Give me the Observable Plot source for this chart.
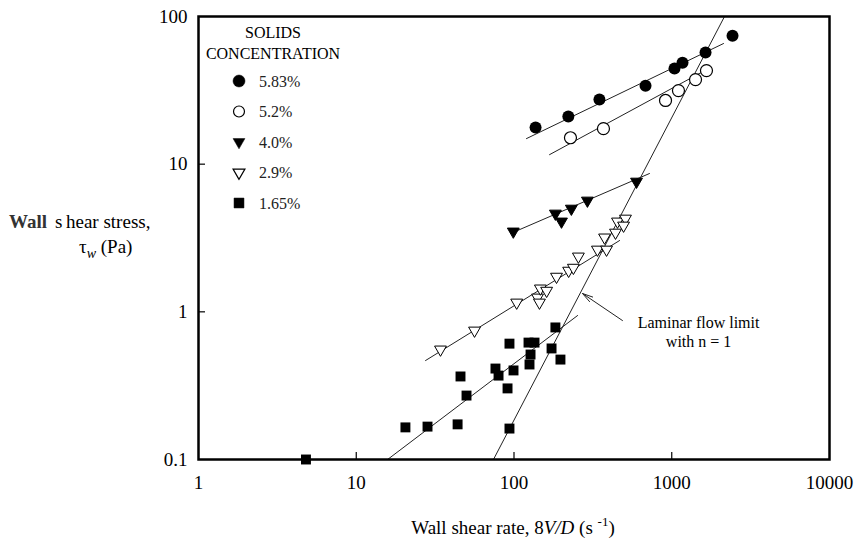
<!DOCTYPE html>
<html><head><meta charset="utf-8">
<script src="https://cdn.jsdelivr.net/npm/d3@7"></script>
<script src="https://cdn.jsdelivr.net/npm/@observablehq/plot@0.6"></script>
<style>
body{margin:0;background:#fff;}
#wrap{position:relative;width:856px;height:543px;font-family:"Liberation Serif","Times New Roman",serif;}
#wrap svg{position:absolute;left:0;top:0;}
</style></head><body><div id="wrap"></div>
<script>
// ---- data ----
const seriesNames = ["5.83%", "5.2%", "4.0%", "2.9%", "1.65%"];

const rate583 = [137, 221, 348, 682, 1041, 1170, 1637, 2428];
const tau583  = [17.7, 21.0, 27.4, 34.0, 44.4, 48.7, 57.0, 74.2];

const rate52 = [228, 369, 913, 1103, 1415, 1660];
const tau52  = [15.1, 17.4, 27.0, 31.5, 37.4, 43.0];

const rate40 = [99, 183, 200, 231, 292, 598];
const tau40  = [3.50, 4.63, 4.09, 5.0, 5.67, 7.62];

const rate29 = [34.2, 56.2, 104, 141, 145, 147, 161, 186, 222, 238, 256, 338, 375, 386, 440, 453, 509, 495];
const tau29  = [0.556, 0.747, 1.156, 1.25, 1.156, 1.44, 1.39, 1.73, 1.90, 1.99, 2.37, 2.64, 3.19, 2.64, 3.44, 4.09, 4.28, 3.84];

const rate165 = [4.8, 20.5, 28.3, 43.9, 50.0, 45.8, 76.3, 79.8, 99.3, 91.0, 93.6, 123.6, 134.9, 127.3, 125.4, 93.6, 173, 183, 197];
const tau165  = [0.100, 0.165, 0.167, 0.173, 0.271, 0.365, 0.413, 0.370, 0.401, 0.303, 0.609, 0.619, 0.619, 0.514, 0.440, 0.162, 0.565, 0.784, 0.475];

// fitted lines (end points)
const fit583Rate = [120, 2129], fit583Tau = [14.9, 65.6];
const fit52Rate  = [168, 1710], fit52Tau  = [11.6, 44.4];
const fit40Rate  = [95, 722],   fit40Tau  = [3.39, 8.64];
const fit29Rate  = [27.5, 467], fit29Tau  = [0.468, 3.04];
const fit165Rate = [15.8, 253], fit165Tau = [0.100, 0.944];
const laminarRate = [74.1, 2160], laminarTau = [0.1, 100];

// annotation
const arrowFrom = [487, 0.873], arrowTo = [272, 1.33];
const noteAt = [1479, 0.741];
const noteText = "Laminar flow limit\nwith n = 1";

// axes
const xTicks = [1, 10, 100, 1000, 10000];
const yTicks = [0.1, 1, 10, 100];
const xInnerTicks = [10, 100, 1000];
const yInnerTicks = [1, 10];

// ---- build ----
const zip = (xs, ys) => xs.map((x, i) => ({x, y: ys[i]}));
const W = 856, H = 543, mL = 198, mR = 27, mT = 16, mB = 84;
const pw = W - mL - mR, ph = H - mT - mB;

const lines = [
  zip(fit583Rate, fit583Tau), zip(fit52Rate, fit52Tau), zip(fit40Rate, fit40Tau),
  zip(fit29Rate, fit29Tau), zip(fit165Rate, fit165Tau), zip(laminarRate, laminarTau)
];

const chart = Plot.plot({
  width: W, height: H,
  marginLeft: mL, marginRight: mR, marginTop: mT, marginBottom: mB,
  style: {fontFamily: "Liberation Serif, Times New Roman, serif", fontSize: "19px", color: "black", background: "white"},
  x: {type: "log", domain: [1, 10000], ticks: xTicks, tickFormat: d => String(d), tickSize: 0, tickPadding: 16, label: null},
  y: {type: "log", domain: [0.1, 100], ticks: yTicks, tickFormat: d => String(d), tickSize: 0, tickPadding: 11, label: null},
  marks: [
    ...lines.map(l => Plot.line(l, {x: "x", y: "y", stroke: "#222", strokeWidth: 1, clip: true})),
    Plot.tickX(xInnerTicks, {x: d => d, insetTop: ph - 7, stroke: "black", strokeWidth: 1.2}),
    Plot.tickY(yInnerTicks, {y: d => d, insetRight: pw - 7, stroke: "black", strokeWidth: 1.2}),
    Plot.frame({stroke: "black", strokeWidth: 2.5}),
    Plot.arrow([0], {x1: () => arrowFrom[0], y1: () => arrowFrom[1], x2: () => arrowTo[0], y2: () => arrowTo[1],
      stroke: "#222", strokeWidth: 1, headLength: 16, headAngle: 30}),
    Plot.text([noteText], {x: () => noteAt[0], y: () => noteAt[1], text: d => d, fontSize: 16, lineHeight: 1.2, fill: "black"}),
    Plot.dot(zip(rate165, tau165), {x: "x", y: "y", symbol: "square", r: 5.6, fill: "black", stroke: "none"}),
    Plot.dot(zip(rate29, tau29), {x: "x", y: "y", symbol: "triangle", rotate: 180, r: 4.4, fill: "white", stroke: "black", strokeWidth: 1}),
    Plot.dot(zip(rate40, tau40), {x: "x", y: "y", symbol: "triangle", rotate: 180, r: 4.4, fill: "black", stroke: "black", strokeWidth: 1}),
    Plot.dot(zip(rate52, tau52), {x: "x", y: "y", symbol: "circle", r: 6, fill: "white", stroke: "black", strokeWidth: 1.2}),
    Plot.dot(zip(rate583, tau583), {x: "x", y: "y", symbol: "circle", r: 6, fill: "black", stroke: "none"})
  ]
});
document.getElementById("wrap").appendChild(chart);

// ---- overlay: legend and axis titles ----
const ov = d3.select("#wrap").append("svg")
  .attr("width", W).attr("height", H)
  .style("pointer-events", "none")
  .style("font-family", "Liberation Serif, Times New Roman, serif");

ov.append("text").attr("x", 273).attr("y", 38).attr("text-anchor", "middle").attr("font-size", 16).text("SOLIDS");
ov.append("text").attr("x", 273).attr("y", 59).attr("text-anchor", "middle").attr("font-size", 16).text("CONCENTRATION");

const legendSym = [
  {type: d3.symbolCircle, size: Math.PI * 36, fill: "black", rot: 0},
  {type: d3.symbolCircle, size: Math.PI * 30, fill: "white", rot: 0},
  {type: d3.symbolTriangle, size: Math.PI * 4.4 * 4.4, fill: "black", rot: 180},
  {type: d3.symbolTriangle, size: Math.PI * 4.4 * 4.4, fill: "white", rot: 180},
  {type: d3.symbolSquare, size: Math.PI * 5.6 * 5.6, fill: "black", rot: 0}
];
seriesNames.forEach((name, i) => {
  const cy = 81 + i * 30.5;
  const s = legendSym[i];
  ov.append("path").attr("d", d3.symbol(s.type, s.size)())
    .attr("transform", `translate(239,${cy}) rotate(${s.rot})`)
    .attr("fill", s.fill).attr("stroke", "black").attr("stroke-width", s.fill === "white" ? 1.2 : 0.5);
  ov.append("text").attr("x", 259).attr("y", cy + 5.5).attr("font-size", 16).attr("fill", "#222").text(name);
});

// y title
const yt = ov.append("text").attr("y", 228).attr("font-size", 19);
yt.append("tspan").attr("x", 9).attr("font-weight", "bold").attr("fill", "#333").text("Wall");
yt.append("tspan").attr("x", 55).text("s");
yt.append("tspan").attr("x", 66).text("hear stress,");
const yt2 = ov.append("text").attr("y", 253).attr("font-size", 19);
yt2.append("tspan").attr("x", 79).text("τ");
yt2.append("tspan").attr("dy", 5).attr("font-size", 14).attr("font-style", "italic").text("w");
yt2.append("tspan").attr("dy", -5).text(" (Pa)");

// x title
const xt = ov.append("text").attr("x", 513).attr("y", 534).attr("text-anchor", "middle").attr("font-size", 19);
xt.append("tspan").text("Wall shear rate, 8");
xt.append("tspan").attr("font-style", "italic").text("V/D");
xt.append("tspan").text(" (s ");
xt.append("tspan").attr("dy", -8).attr("font-size", 13).text("-1");
xt.append("tspan").attr("dy", 8).text(")");
</script>
</body></html>
